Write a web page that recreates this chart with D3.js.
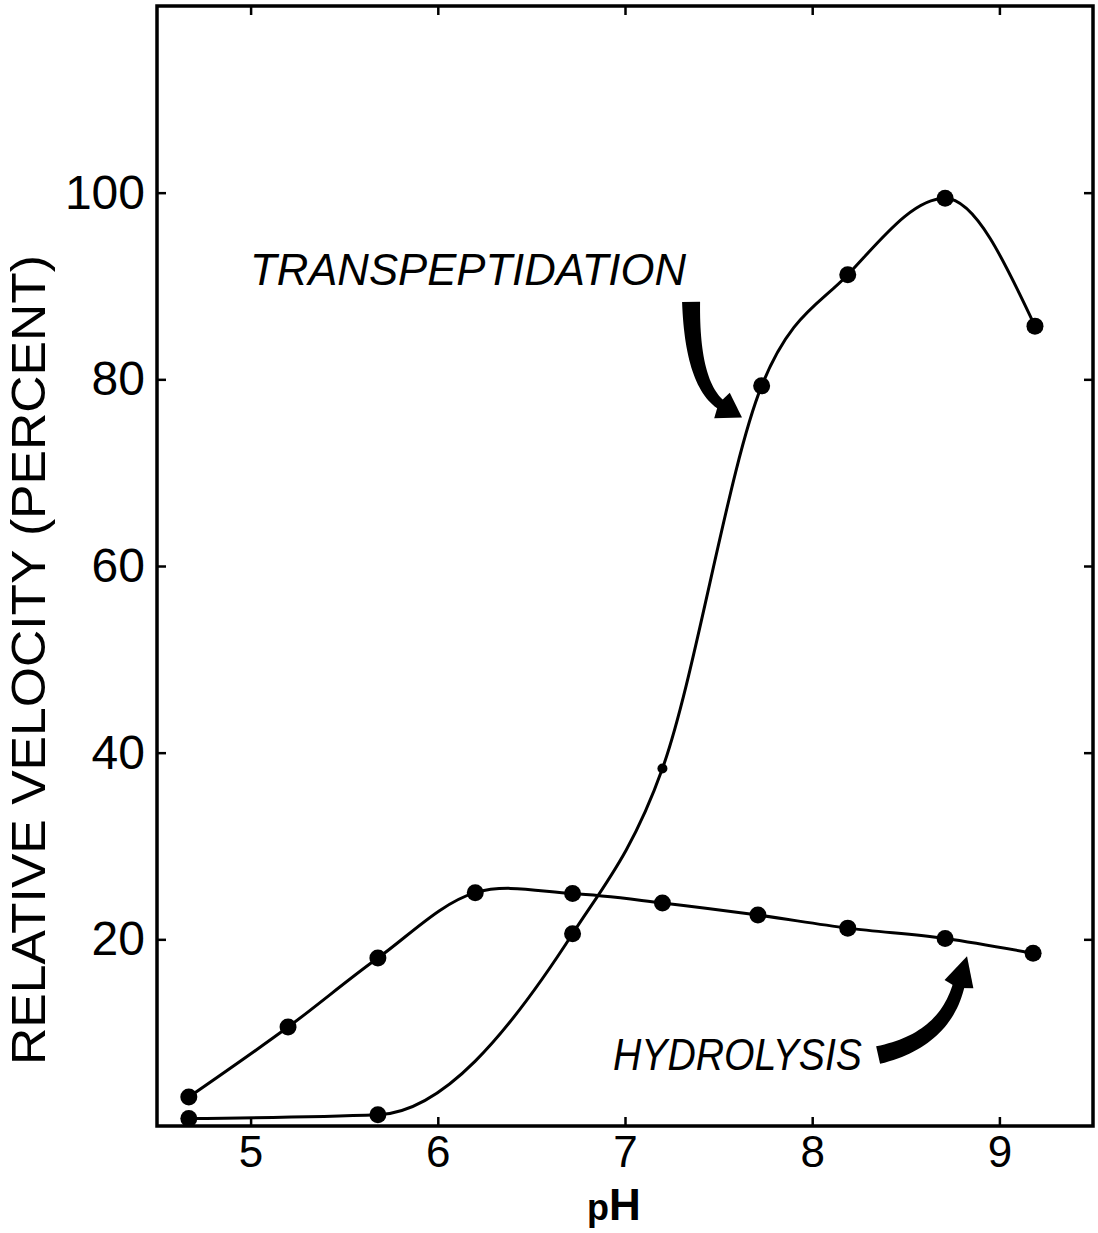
<!DOCTYPE html>
<html>
<head>
<meta charset="utf-8">
<script src="https://cdn.jsdelivr.net/npm/d3@7"></script>
<style>
  body { margin: 0; background: #fff; }
  svg { display: block; }
</style>
</head>
<body>
<div id="chart"></div>
<script>
// pH values and relative velocities (percent)
const hydrolysisPH = [4.67, 5.2, 5.68, 6.2, 6.72, 7.2, 7.71, 8.19, 8.71, 9.18];
const hydrolysis = [3.1, 10.6, 18.0, 25.0, 24.9, 23.9, 22.6, 21.2, 20.1, 18.5];

const transPH = [4.67, 5.68, 6.72, 7.2, 7.73, 8.19, 8.71, 9.19];
const transpeptidation = [0.8, 1.2, 20.6, 38.3, 79.3, 91.2, 99.4, 85.7];

const xTicks = [5, 6, 7, 8, 9];
const yTicks = [20, 40, 60, 80, 100];

const W = 1098, H = 1233;
const pLeft = 157, pRight = 1093, pTop = 6, pBottom = 1126;

const svg = d3.select("#chart").append("svg")
  .attr("width", W)
  .attr("height", H);

const x = d3.scaleLinear().domain([4.5, 9.5]).range([pLeft, pRight]);
const y = d3.scaleLinear().domain([0, 120]).range([pBottom, pTop]);

const font = "'Liberation Sans', Arial, sans-serif";

// axes with inward ticks
const gB = svg.append("g").attr("transform", `translate(0,${pBottom})`)
  .call(d3.axisBottom(x).tickValues(xTicks).tickSize(-9).tickPadding(10).tickFormat(d3.format("d")));
const gT = svg.append("g").attr("transform", `translate(0,${pTop})`)
  .call(d3.axisTop(x).tickValues(xTicks).tickSize(-9).tickFormat(""));
const gL = svg.append("g").attr("transform", `translate(${pLeft},0)`)
  .call(d3.axisLeft(y).tickValues(yTicks).tickSize(-9).tickPadding(12));
const gR = svg.append("g").attr("transform", `translate(${pRight},0)`)
  .call(d3.axisRight(y).tickValues(yTicks).tickSize(-9).tickFormat(""));

[gB, gT, gL, gR].forEach(g => {
  g.select(".domain").remove();
  g.selectAll(".tick line").attr("stroke", "#000").attr("stroke-width", 2.5);
});
gB.selectAll("text").attr("font-family", font).attr("font-size", 44).attr("fill", "#000");
gL.selectAll("text").attr("font-family", font).attr("font-size", 48).attr("fill", "#000");

// frame
svg.append("rect")
  .attr("x", pLeft).attr("y", pTop)
  .attr("width", pRight - pLeft).attr("height", pBottom - pTop)
  .attr("fill", "none").attr("stroke", "#000").attr("stroke-width", 3.5);

// curves
const hydData = hydrolysisPH.map((p, i) => [p, hydrolysis[i]]);
const trData = transPH.map((p, i) => [p, transpeptidation[i]]);

const hydLine = d3.line().x(d => x(d[0])).y(d => y(d[1])).curve(d3.curveCatmullRom.alpha(0.5));
const trLine = d3.line().x(d => x(d[0])).y(d => y(d[1])).curve(d3.curveMonotoneX);

svg.append("path").datum(hydData).attr("d", hydLine)
  .attr("fill", "none").attr("stroke", "#000").attr("stroke-width", 3);
svg.append("path").datum(trData).attr("d", trLine)
  .attr("fill", "none").attr("stroke", "#000").attr("stroke-width", 3);

svg.selectAll(".hyd").data(hydData).enter().append("circle")
  .attr("class", "hyd")
  .attr("cx", d => x(d[0])).attr("cy", d => y(d[1])).attr("r", 8.5).attr("fill", "#000");
svg.selectAll(".tr").data(trData).enter().append("circle")
  .attr("class", "tr")
  .attr("cx", d => x(d[0])).attr("cy", d => y(d[1]))
  .attr("r", (d, i) => i === 3 ? 5 : 8.5).attr("fill", "#000");

// tapered curved arrow: quadratic centreline, then a triangular head
function arrow(s, c, e, tip, w0, w1, headW) {
  const n = 30, L = [], R = [];
  for (let i = 0; i <= n; i++) {
    const t = i / n;
    const px = (1 - t) * (1 - t) * s[0] + 2 * t * (1 - t) * c[0] + t * t * e[0];
    const py = (1 - t) * (1 - t) * s[1] + 2 * t * (1 - t) * c[1] + t * t * e[1];
    const dx = 2 * (1 - t) * (c[0] - s[0]) + 2 * t * (e[0] - c[0]);
    const dy = 2 * (1 - t) * (c[1] - s[1]) + 2 * t * (e[1] - c[1]);
    const len = Math.hypot(dx, dy);
    const w = w0 + (w1 - w0) * t;
    L.push([px - dy / len * w, py + dx / len * w]);
    R.push([px + dy / len * w, py - dx / len * w]);
  }
  svg.append("path")
    .attr("d", d3.line()(L.concat(R.reverse())) + "Z")
    .attr("fill", "#000");
  const dx = tip[0] - e[0], dy = tip[1] - e[1], len = Math.hypot(dx, dy);
  const nx = -dy / len * headW, ny = dx / len * headW;
  svg.append("path")
    .attr("d", d3.line()([[e[0] + nx, e[1] + ny], tip, [e[0] - nx, e[1] - ny], [e[0] - dx / len * 4, e[1] - dy / len * 4]]) + "Z")
    .attr("fill", "#000");
}

// arrow anchors given in data units
arrow([x(7.353), y(88.3)], [x(7.358), y(79.4)], [x(7.518), y(77.2)], [x(7.625), y(75.9)], 9, 5, 15);
arrow([x(8.352), y(7.6)], [x(8.709), y(9.2)], [x(8.784), y(15.2)], [x(8.827), y(18.2)], 9, 6, 15);

// annotations
svg.append("text")
  .attr("x", 250).attr("y", 285)
  .attr("font-family", font).attr("font-style", "italic").attr("font-size", 45)
  .attr("textLength", 436).attr("lengthAdjust", "spacingAndGlyphs")
  .text("TRANSPEPTIDATION");
svg.append("text")
  .attr("x", 613).attr("y", 1070)
  .attr("font-family", font).attr("font-style", "italic").attr("font-size", 44)
  .attr("textLength", 249).attr("lengthAdjust", "spacingAndGlyphs")
  .text("HYDROLYSIS");

// axis titles
svg.append("text")
  .attr("transform", "translate(45,660) rotate(-90)")
  .attr("text-anchor", "middle")
  .attr("font-family", font).attr("font-size", 48)
  .attr("textLength", 810).attr("lengthAdjust", "spacingAndGlyphs")
  .text("RELATIVE VELOCITY (PERCENT)");

const ph = svg.append("text")
  .attr("x", 614).attr("y", 1220)
  .attr("text-anchor", "middle")
  .attr("font-family", font).attr("font-weight", "bold");
ph.append("tspan").attr("font-size", 36).text("p");
ph.append("tspan").attr("font-size", 44).text("H");
</script>
</body>
</html>
